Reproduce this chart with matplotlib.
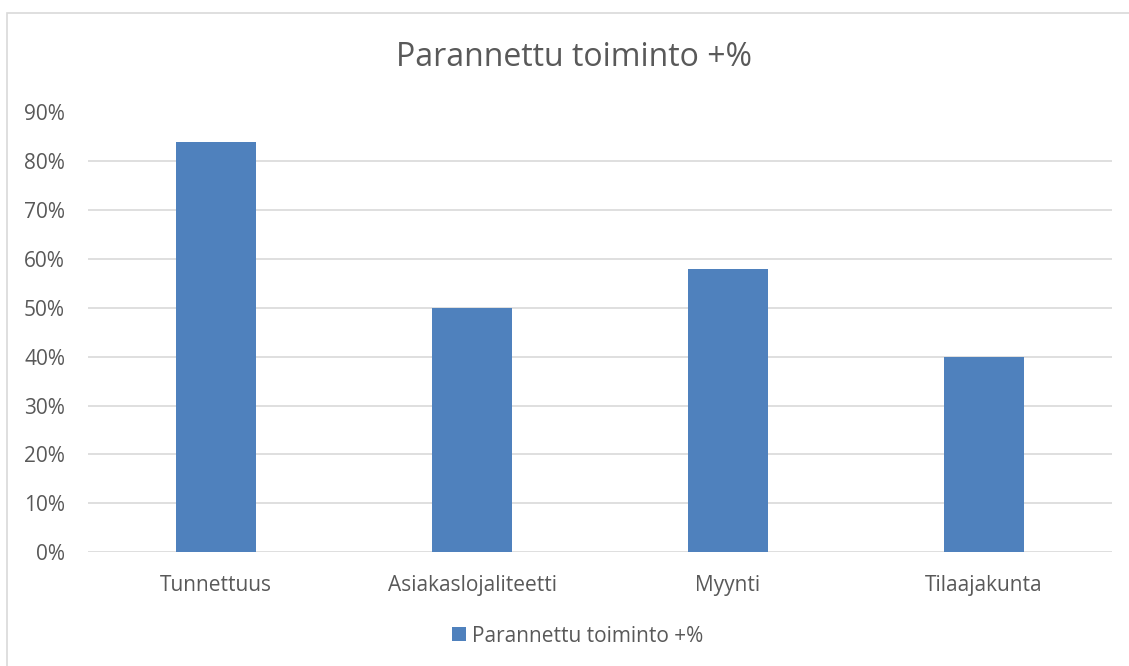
import matplotlib
matplotlib.use("Agg")
import matplotlib.pyplot as plt
from matplotlib.patches import Rectangle
from matplotlib.ticker import PercentFormatter

categories = ["Tunnettuus", "Asiakaslojaliteetti", "Myynti", "Tilaajakunta"]
values = [84, 50, 58, 40]
series_name = "Parannettu toiminto +%"
title = "Parannettu toiminto +%"

text_col = "#595959"
bar_col = "#4F81BD"
grid_col = "#D9D9D9"

plt.rcParams['font.family'] = ['Open Sans', 'DejaVu Sans']

fig = plt.figure(figsize=(11.29, 6.66), dpi=100)
# chart border (only top/left visible in the reference)
fig.patches.append(Rectangle((7 / 1129, -0.1), 1.2, 1.1 - 13 / 666,
                             transform=fig.transFigure, fill=False,
                             edgecolor="#D9D9D9", linewidth=1.2))

ax = fig.add_axes([88 / 1129, 1 - 552 / 666, 1024 / 1129, (552 - 112.5) / 666])
x = range(len(categories))
ax.bar(x, values, width=0.316, color=bar_col, label=series_name, zorder=3)

ax.set_xlim(-0.5, len(categories) - 0.5)
ax.set_ylim(0, 90)
ax.set_yticks(range(0, 91, 10))
ax.yaxis.set_major_formatter(PercentFormatter(decimals=0))
ax.set_xticks(list(x))
ax.set_xticklabels(categories)
ax.grid(axis="y", color=grid_col, linewidth=1.2, zorder=0)
for s in ax.spines.values():
    s.set_visible(False)
ax.tick_params(axis="both", length=0, colors=text_col, labelsize=15)
ax.tick_params(axis="x", pad=16.5)
ax.tick_params(axis="y", pad=16.5)

fig.text(574 / 1129, 1 - 57 / 666, title, ha="center", va="center",
         fontsize=23, color=text_col)

fig.legend(loc="center", bbox_to_anchor=(578 / 1129, 1 - 636 / 666),
           frameon=False, fontsize=15, labelcolor=text_col,
           handlelength=0.65, handleheight=0.65, handletextpad=0.3)

fig.savefig("out.png", dpi=100)
